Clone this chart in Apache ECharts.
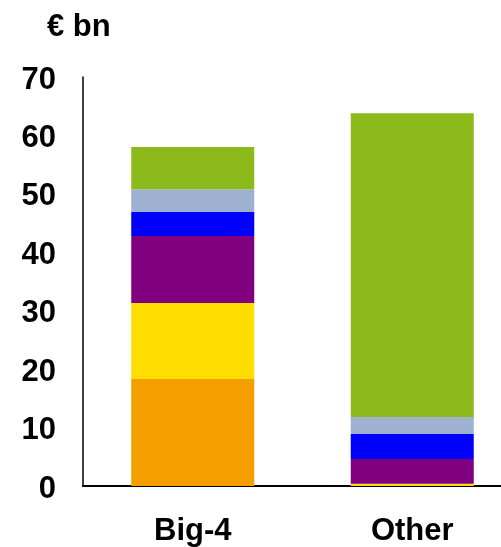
<!DOCTYPE html>
<html><head><meta charset="utf-8">
<script src="https://cdn.jsdelivr.net/npm/echarts@6/dist/echarts.min.js"></script>
<style>html,body{margin:0;padding:0;background:#fff;overflow:hidden;width:501px;height:547px}#c{width:522px;height:547px}</style>
</head><body><div id="c"></div>
<script>
const categories = ['Big-4', 'Other'];
const seriesNames = ['Orange', 'Yellow', 'Purple', 'Blue', 'Light blue', 'Green'];
const orangeVals = [18.3, 0];
const yellowVals = [13.0, 0.4];
const purpleVals = [11.5, 4.2];
const blueVals = [4.1, 4.3];
const lightBlueVals = [3.9, 2.9];
const greenVals = [7.2, 52.0];
const yTicks = [0, 10, 20, 30, 40, 50, 60, 70];
const unitLabel = '€ bn';

const colors = ['#F59E00', '#FFDD00', '#800080', '#0000FF', '#9EB1D0', '#8CBA1A'];
const dataSets = [orangeVals, yellowVals, purpleVals, blueVals, lightBlueVals, greenVals];
const font = 'Liberation Sans, Arial, sans-serif';

const chart = echarts.init(document.getElementById('c'), null, {renderer: 'canvas'});
chart.setOption({
  animation: false,
  grid: {left: 83, right: 0, top: 77, bottom: 61, containLabel: false},
  graphic: [{type: 'text', x: 47, y: 27, style: {text: unitLabel, font: 'bold 31px ' + font, fill: '#000', verticalAlign: 'middle'}}],
  xAxis: {
    type: 'category', data: categories,
    axisLine: {lineStyle: {color: '#000', width: 2}},
    axisTick: {show: false},
    axisLabel: {color: '#000', fontSize: 31, fontWeight: 'bold', fontFamily: font, margin: 30}
  },
  yAxis: {
    type: 'value', min: yTicks[0], max: yTicks[yTicks.length - 1], interval: 10,
    axisLine: {show: true, lineStyle: {color: '#000', width: 1.5}},
    axisTick: {show: false},
    splitLine: {show: false},
    axisLabel: {color: '#000', fontSize: 31, fontWeight: 'bold', fontFamily: font, margin: 27, verticalAlign: 'top', lineHeight: 6}
  },
  series: dataSets.map((d, i) => ({
    name: seriesNames[i], type: 'bar', stack: 'total', data: d,
    barWidth: 123, itemStyle: {color: colors[i]}
  }))
});
</script></body></html>
